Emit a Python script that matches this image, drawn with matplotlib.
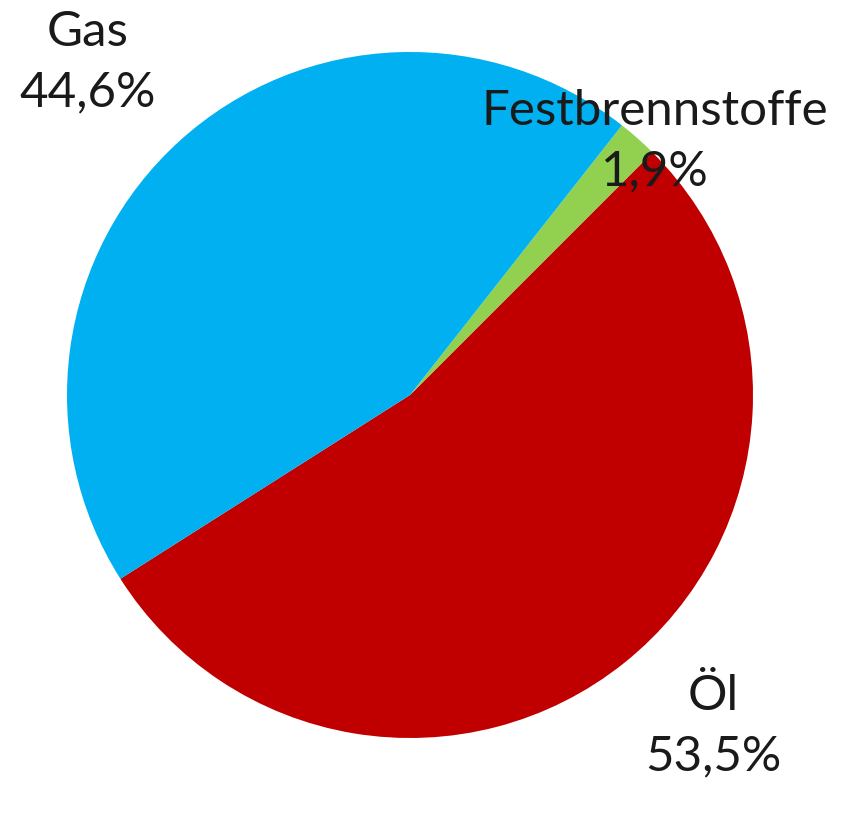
import matplotlib
matplotlib.use("Agg")
from matplotlib import pyplot as plt

labels = ['Öl', 'Festbrennstoffe', 'Gas']
shares = [53.5, 1.9, 44.6]
colors = ['#C00000', '#92D050', '#00B0F0']
# label anchor points (data coords, pie radius = 1)
label_pos = [(0.885, -0.965), (0.715, 0.74), (-0.94, 0.97)]

W, H = 853, 813
cx, cy, r = 410, 395, 343

fig = plt.figure(figsize=(W / 100, H / 100), dpi=100)
ax = fig.add_axes([(cx - r) / W, (H - cy - r) / H, 2 * r / W, 2 * r / H])

ax.pie(shares, colors=colors, startangle=-147.6, counterclock=True,
       radius=1, wedgeprops=dict(linewidth=0))
ax.set_xlim(-1, 1)
ax.set_ylim(-1, 1)
ax.set_aspect('equal')
ax.axis('off')

for lab, val, (x, y) in zip(labels, shares, label_pos):
    txt = lab + '\n' + ('%.1f%%' % val).replace('.', ',')
    ax.text(x, y, txt, ha='center', va='center', fontsize=35.5,
            family='Lato', color='#1a1a1a', linespacing=1.45,
            clip_on=False)

fig.savefig('out.png', dpi=100)
